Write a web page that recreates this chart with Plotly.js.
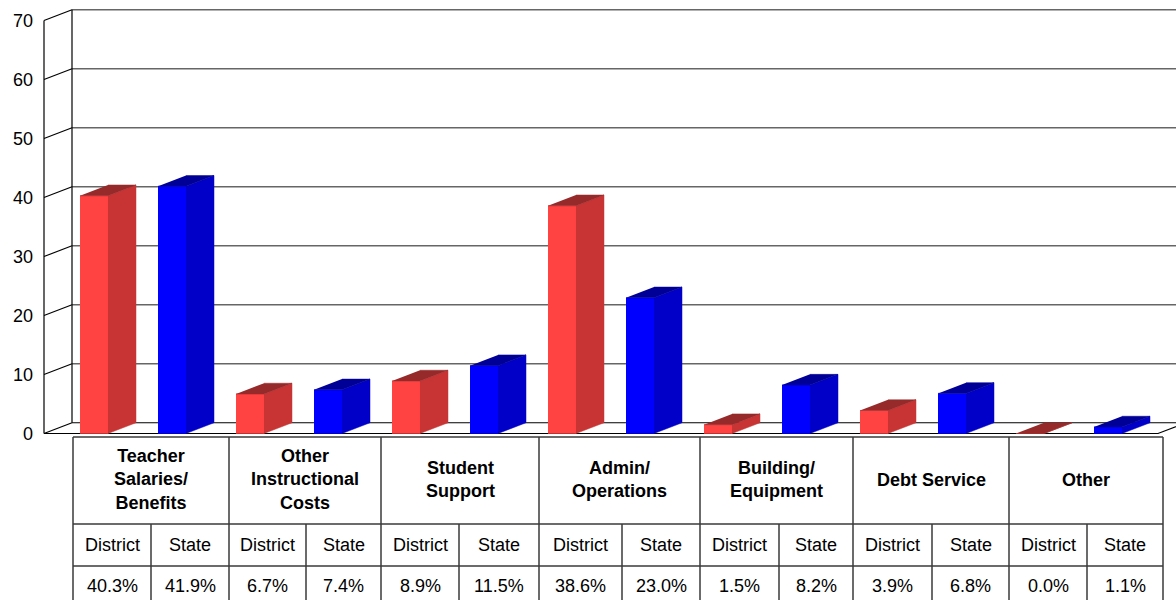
<!DOCTYPE html>
<html>
<head>
<meta charset="utf-8">
<script src="https://cdn.plot.ly/plotly-3.0.1.min.js"></script>
<style>html,body{margin:0;padding:0;background:#fff;}#chart{width:1176px;height:600px;}</style>
</head>
<body>
<div id="chart"></div>
<script>
// ---- data ----
const categories = ["Teacher<br>Salaries/<br>Benefits", "Other<br>Instructional<br>Costs", "Student<br>Support", "Admin/<br>Operations", "Building/<br>Equipment", "Debt Service", "Other"];
const seriesNames = ["District", "State"];
const districtValues = [40.3, 6.7, 8.9, 38.6, 1.5, 3.9, 0.0];
const stateValues = [41.9, 7.4, 11.5, 23.0, 8.2, 6.8, 1.1];
const yTicks = [0, 10, 20, 30, 40, 50, 60, 70];

// ---- geometry (layout) ----
const W = 1176, H = 600;
const L = 38, PLOT_H = 440;
const PXX = 78, PXY = 5.9;
const XR0 = -17 / PXX;
const XR1 = XR0 + (W - L) / PXX;
const Y0PX = 433.5;
const YR1 = Y0PX / PXY;
const YR0 = -(PLOT_H - Y0PX) / PXY;
const DX = 28 / PXX, DY = 10.75 / PXY;
const BAR_OFF = 25 / PXX, BAR_W = 28 / PXX;
const FLOOR_L = -11 / PXX, FLOOR_R = 2 * categories.length + 11 / PXX;
const FONT = "Liberation Sans, Arial, sans-serif";

const seriesValues = [districtValues, stateValues];
const faceColors = [
  {front: "#FF4242", side: "#C83434", top: "#962A2A"},
  {front: "#0000FF", side: "#0000C8", top: "#000096"}
];

const traces = [];

// back-wall gridlines
const gx = [], gy = [];
yTicks.forEach(v => { if (v !== 0) { gx.push(FLOOR_L + DX, XR1, null); gy.push(v + DY, v + DY, null); } });
traces.push({type: "scatter", mode: "lines", x: gx, y: gy, line: {color: "#666666", width: 1.7}, hoverinfo: "skip", showlegend: false});

// wall / floor edges
const wx = [], wy = [];
yTicks.forEach(v => { wx.push(FLOOR_L, FLOOR_L + DX, null); wy.push(v, v + DY, null); });
wx.push(FLOOR_L, FLOOR_L, null); wy.push(0, yTicks[yTicks.length - 1], null);
wx.push(FLOOR_L + DX, FLOOR_L + DX, null); wy.push(DY, yTicks[yTicks.length - 1] + DY, null);
wx.push(FLOOR_L + DX, XR1, null); wy.push(DY, DY, null);
wx.push(FLOOR_L, FLOOR_R, FLOOR_R + DX, null); wy.push(0, 0, DY, null);
traces.push({type: "scatter", mode: "lines", x: wx, y: wy, line: {color: "#000", width: 1.2}, hoverinfo: "skip", showlegend: false});

// 3D bars
seriesValues.forEach((vals, s) => {
  const f = {x: [], y: []}, sd = {x: [], y: []}, tp = {x: [], y: []};
  vals.forEach((v, i) => {
    const x0 = 2 * i + s + BAR_OFF, x1 = x0 + BAR_W;
    f.x.push(x0, x1, x1, x0, null); f.y.push(0, 0, v, v, null);
    sd.x.push(x1, x1 + DX, x1 + DX, x1, null); sd.y.push(0, DY, v + DY, v, null);
    tp.x.push(x0, x1, x1 + DX, x0 + DX, null); tp.y.push(v, v, v + DY, v + DY, null);
  });
  [[f, "front"], [sd, "side"], [tp, "top"]].forEach(([p, k]) => {
    traces.push({type: "scatter", mode: "lines", x: p.x, y: p.y, fill: "toself",
      fillcolor: faceColors[s][k], line: {color: faceColors[s][k], width: 0.5},
      name: seriesNames[s], hoverinfo: "skip", showlegend: false});
  });
});

// ---- table below ----
const colBounds = [73, 229, 381, 539, 700, 853, 1009, 1163];
const colSplits = [151, 306, 459, 622, 779, 932, 1087];
const rowLines = [437, 524, 566];
const px2x = p => (p - L) / (W - L);
const py2y = p => (PLOT_H - p) / PLOT_H;
const shapes = [];
const lineStyle = {color: "#3a3a3a", width: 1.5};
rowLines.forEach(r => shapes.push({type: "line", xref: "paper", yref: "paper", x0: px2x(colBounds[0]), x1: px2x(colBounds[colBounds.length - 1]), y0: py2y(r), y1: py2y(r), line: lineStyle}));
colBounds.forEach(c => shapes.push({type: "line", xref: "paper", yref: "paper", x0: px2x(c), x1: px2x(c), y0: py2y(rowLines[0]), y1: py2y(H + 10), line: lineStyle}));
colSplits.forEach(c => shapes.push({type: "line", xref: "paper", yref: "paper", x0: px2x(c), x1: px2x(c), y0: py2y(rowLines[1]), y1: py2y(H + 10), line: lineStyle}));

const annotations = [];
categories.forEach((c, i) => {
  annotations.push({xref: "paper", yref: "paper", x: px2x((colBounds[i] + colBounds[i + 1]) / 2), y: py2y(480),
    text: c, showarrow: false, xanchor: "center", yanchor: "middle", align: "center",
    font: {family: FONT, size: 18, color: "#000", weight: "bold"}});
  const subs = [[colBounds[i], colSplits[i]], [colSplits[i], colBounds[i + 1]]];
  subs.forEach(([a, b], s) => {
    annotations.push({xref: "paper", yref: "paper", x: px2x((a + b) / 2), y: py2y(545),
      text: seriesNames[s], showarrow: false, xanchor: "center", yanchor: "middle",
      font: {family: FONT, size: 18, color: "#000"}});
    annotations.push({xref: "paper", yref: "paper", x: px2x((a + b) / 2), y: py2y(586),
      text: seriesValues[s][i].toFixed(1) + "%", showarrow: false, xanchor: "center", yanchor: "middle",
      font: {family: FONT, size: 18, color: "#000"}});
  });
});

const layout = {
  width: W, height: H, autosize: false,
  margin: {l: L, r: 0, t: 0, b: H - PLOT_H, pad: 0},
  paper_bgcolor: "#fff", plot_bgcolor: "#fff",
  showlegend: false,
  xaxis: {range: [XR0, XR1], visible: false, fixedrange: true},
  yaxis: {range: [YR0, YR1], tickvals: yTicks, ticktext: yTicks.map(String), ticks: "", showgrid: false,
    zeroline: false, showline: false, fixedrange: true, ticklabelstandoff: 4,
    tickfont: {family: FONT, size: 18, color: "#000"}},
  shapes: shapes,
  annotations: annotations
};

Plotly.newPlot("chart", traces, layout, {displayModeBar: false, staticPlot: true});
</script>
</body>
</html>
